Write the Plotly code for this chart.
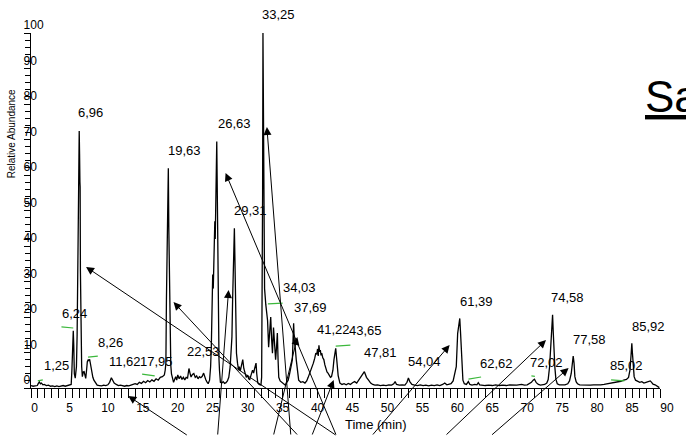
import plotly.graph_objects as go

# ---- chromatogram trace ----
time_min = [0.0,0.3,0.6,0.9,1.05,1.2,1.35,1.5,1.7,1.9,2.2,2.5,2.8,3.1,3.4,3.7,4.0,4.3,4.6,4.9,5.2,5.5,5.75,
            5.85,5.95,6.05,6.12,6.2,6.33,6.42,6.5,6.6,6.68,6.75,6.8,6.86,6.9,6.95,7.0,7.03,7.07,7.12,7.17,7.25,7.35,7.48,7.6,7.7,7.83,7.95,8.06,8.2,8.3,8.39,8.5,8.67,8.85,9.0,9.2,9.47,9.8,10.1,10.4,10.7,11.0,11.25,11.5,11.7,11.9,12.2,12.5,12.8,13.1,13.4,13.7,14.0,14.3,14.6,14.9,15.2,15.5,15.8,16.1,16.4,16.7,17.0,17.3,17.6,17.9,18.2,18.5,18.8,19.08,
            19.2,19.3,19.38,19.45,19.5,19.56,19.65,19.72,19.8,19.88,19.95,20.0,20.1,20.25,20.4,20.55,20.7,20.85,21.0,21.2,21.4,21.6,21.8,22.0,22.2,22.4,22.6,22.75,22.9,23.1,23.3,23.5,23.7,23.9,24.1,24.3,24.5,24.7,24.85,25.0,25.15,25.35,25.55,
            25.7,25.8,25.9,26.0,26.08,26.15,26.22,26.3,26.36,26.42,26.48,26.53,26.58,26.63,26.68,26.72,26.77,26.82,26.9,26.97,27.1,27.3,27.5,27.7,27.9,28.1,28.3,28.5,28.65,28.75,28.85,28.95,29.1,29.18,29.25,29.33,29.4,29.55,29.7,29.8,29.95,30.1,30.3,30.45,30.6,30.8,31.0,31.15,31.3,31.45,31.6,31.7,31.85,32.0,32.1,32.2,32.3,32.45,32.65,32.9,
            33.0,33.08,33.14,33.19,33.23,33.27,33.3,33.35,33.42,33.6,33.72,33.85,34.0,34.15,34.3,34.42,34.55,34.7,34.85,35.0,35.15,35.25,35.35,35.45,35.65,35.95,36.2,36.4,36.6,36.8,37.0,37.2,37.4,37.5,37.58,37.68,37.8,37.95,38.1,38.3,38.6,38.9,39.2,39.45,39.66,39.9,40.1,40.4,40.6,40.75,40.9,41.0,41.1,41.2,41.3,41.4,41.5,41.6,41.75,41.9,42.05,42.2,42.35,42.5,42.7,42.85,43.0,43.2,43.35,43.5,43.6,43.7,43.8,43.95,
            44.2,44.5,44.8,45.1,45.4,45.7,46.0,46.3,46.6,46.9,47.15,47.4,47.6,47.7,47.85,48.0,48.3,48.6,48.9,49.2,49.6,50.0,50.4,50.8,51.2,51.6,51.9,52.1,52.3,52.7,53.1,53.5,53.8,54.0,54.2,54.5,54.9,55.3,55.7,56.1,56.5,56.9,57.3,57.7,58.1,58.5,58.9,59.2,59.5,59.8,60.1,60.4,60.6,60.85,61.05,61.2,61.35,61.45,61.55,61.7,61.8,62.0,62.3,62.58,62.8,63.1,63.5,63.8,64.0,64.2,64.6,65.0,65.5,66.0,66.5,67.0,67.5,68.0,68.5,69.0,69.5,70.2,70.6,71.0,71.3,71.6,71.85,72.04,72.3,72.6,72.9,73.2,73.5,73.8,74.0,74.2,74.35,74.5,74.63,74.72,74.8,74.95,75.1,75.3,75.6,76.0,76.4,76.8,77.05,77.3,77.45,77.58,77.7,77.82,78.0,78.2,78.5,79.0,79.5,80.0,80.5,81.0,81.5,82.0,82.5,83.0,83.5,84.0,84.4,84.8,85.2,85.5,85.7,85.85,85.97,86.05,86.15,86.3,86.5,86.8,87.1,87.4,87.7,88.0,88.3,88.6,88.8,89.0,89.3,89.6,89.9]
abundance = [0.7,0.5,0.6,0.7,1.3,1.7,1.2,1.4,0.9,1.0,0.7,0.8,0.5,0.6,0.4,0.6,0.4,0.5,0.7,0.5,0.6,0.8,1.0,
             5,13,16.1,12,4,2.8,4,6,15,25,40,53,65,72.4,66,58,56.7,33,18,10.7,6,3.2,4.5,4.6,3.2,2.7,5,7.4,8.0,7.6,8.1,6.5,4.6,3,2.2,1.5,0.8,0.7,0.6,0.8,0.7,0.9,1.6,2.9,2.2,1.4,1.0,0.7,0.8,0.6,0.5,0.7,0.6,0.8,0.9,1.2,1.0,1.6,1.3,1.9,1.5,2.1,1.7,2.3,1.9,2.6,2.2,3.0,3.2,3.7,
             5,7,25,40,50,45,61.9,45,30,16,8,6.5,4,3,1.6,2.4,3.2,2.2,3.7,2.6,3.4,2.4,3.0,2.3,3.0,2.8,5.5,4.2,3.1,3.8,4.1,3.0,3.4,2.6,3.2,2.9,3.3,4.2,3.0,2.4,1.8,1.2,2.2,
             6,11.6,25,32,28,38,34,47,42,55,50,64.7,69.4,60,48,54,33,19,8,5,1.6,1.4,1.8,1.3,1.5,2.0,3,6,12,14.4,25,36,45,36,22,12,9.8,7,5,6,4.8,6.2,8,5.5,4,3,3.6,2.6,2.4,3.8,4.4,5,4.2,5.5,6.2,7,4,1.4,1.0,0.8,
             3,20,55,100,84,70,58.6,40,28,23.4,21,19,11.5,16,20,14,9.8,17,12,8,12,15.5,8,3,2,1.4,1.0,0.8,1.6,2.2,4,6,8,14,18.2,13,11.5,8,6,2.2,1.6,1.8,1.4,2.0,3,4.2,5.5,7,8.4,9.8,9.5,11,9,12,10.2,10.7,9.2,9.8,8.5,8,6.5,5.2,4.5,4.2,3.4,3,3.2,5,8,10,11.2,9,6,3.5,
             1.4,1.0,1.2,0.9,1.3,1.0,1.5,1.8,1.4,2.2,2.8,3.6,4.2,4.6,3.8,3,2.2,1.4,1.0,0.8,0.9,0.7,0.8,0.7,0.9,0.8,1.2,1.8,1.0,0.8,0.9,0.8,1.6,2.8,1.8,1.0,0.8,0.7,0.9,0.7,0.8,0.6,0.8,0.7,0.9,0.7,1.0,1.4,0.9,1.0,1.2,2.0,3.5,6,15.4,17,19.6,16,11.6,6,2.2,1.2,1.0,1.8,1.0,0.8,1.0,0.9,1.5,0.9,0.8,0.7,0.8,0.7,0.9,0.7,0.8,0.7,0.9,0.8,0.8,1.0,0.8,0.9,1.2,1.6,2.2,2.5,1.5,1.0,0.8,0.9,1.0,1.4,2.4,6,12,17,20.6,16,10,6,2.5,1.2,0.9,0.8,0.9,1.2,2,4.1,7,9,7,3.2,1.8,1.2,0.9,0.8,0.9,0.8,0.9,0.8,0.9,1.0,1.2,1.3,1.4,1.6,1.9,2.2,2.4,3.0,5,9,12.6,10,6,3.2,2.2,2.0,1.6,1.8,1.4,1.6,1.8,2.0,1.6,1.1,0.9,0.5,0.1]

# ---- peak labels ----
peak_labels = ["1,25","6,24","6,96","8,26","11,62","17,95","19,63","22,53","26,63","29,31","33,25",
               "34,03","37,69","41,22","43,65","47,81","54,04","61,39","62,62","72,02","74,58","77,58","85,02","85,92"]
label_time = [3.66,6.19,8.58,11.39,13.5,18.0,21.94,24.75,29.11,31.36,35.44,
              38.39,39.94,43.31,47.81,50.06,56.25,63.7,66.66,73.83,76.78,79.88,85.22,88.31]
label_abund = [6.2,21.1,77.5,12.7,7.6,7.6,66.8,10.4,74.4,50.1,105.1,
               28.2,22.8,16.6,16.3,10.1,7.6,24.5,7.0,7.3,25.6,13.8,6.2,17.2]

# ---- stray arrows: head position (time, abundance) and tail offset in px ----
arrow_head_time = [7.875,20.39,13.92,28.27,27.84,33.75,38.11,43.31,59.9,73.69,76.92]
arrow_head_abund = [34.1,24.2,-2.25,27.6,60.56,73.5,14.37,2.25,12.1,13.5,5.6]
arrow_tail_dx = [251,125,60,-11,111,24,-24,-22,-78,-101,-78]
arrow_tail_dy = [169,134,40,146,263,309,99,56,91,96,68]

# ---- green baseline markers (time, abundance start/end) ----
green_t0 = [0.98,4.36,8.16,15.9,33.9,43.6,62.6,71.6,83.0]
green_a0 = [2.0,17.2,8.7,3.9,23.7,11.8,2.5,3.4,2.3]
green_t1 = [1.69,6.05,9.56,17.7,36.0,45.7,64.4,72.1,84.9]
green_a1 = [2.3,16.9,9.0,3.4,23.9,12.1,3.1,3.3,2.0]

x_ticks = list(range(0, 91, 5))
y_ticks = list(range(0, 101, 10))

NB = "\u00a0"
x_ticktext = [(str(v) + NB * 2) if v < 10 else str(v) for v in x_ticks]
y_ticktext = [str(v) + NB * (2 * (3 - len(str(v)))) for v in y_ticks]

FONT = "Arial, Liberation Sans, sans-serif"

fig = go.Figure()
fig.add_trace(go.Scatter(x=time_min, y=abundance, mode="lines",
                         line=dict(color="black", width=1.3),
                         showlegend=False, hoverinfo="skip"))

gx, gy = [], []
for t0, a0, t1, a1 in zip(green_t0, green_a0, green_t1, green_a1):
    gx += [t0, t1, None]
    gy += [a0, a1, None]
fig.add_trace(go.Scatter(x=gx, y=gy, mode="lines", line=dict(color="#3cb83c", width=1.2),
                         showlegend=False, hoverinfo="skip"))

annotations = []
for txt, t, a in zip(peak_labels, label_time, label_abund):
    annotations.append(dict(x=t, y=a / 100, xref="x", yref="paper", text=txt,
                            showarrow=False, xanchor="center", yanchor="middle",
                            font=dict(family=FONT, size=13, color="black")))
for t, a, dx, dy in zip(arrow_head_time, arrow_head_abund, arrow_tail_dx, arrow_tail_dy):
    annotations.append(dict(x=t, y=a / 100, xref="x", yref="paper", text="",
                            showarrow=True, ax=dx, ay=dy, arrowhead=2, arrowsize=1.6,
                            arrowwidth=1, arrowcolor="black", standoff=0, startstandoff=0))
annotations.append(dict(x=-0.0297, y=0.7155, xref="paper", yref="paper",
                        text="Relative Abundance", textangle=-90, showarrow=False,
                        xanchor="center", yanchor="middle",
                        font=dict(family=FONT, size=10, color="black")))
annotations.append(dict(x=0.548, y=-0.104, xref="paper", yref="paper",
                        text="Time (min)", showarrow=False, xanchor="center", yanchor="middle",
                        font=dict(family=FONT, size=13, color="black")))
annotations.append(dict(x=0.9725, y=0.8225, xref="paper", yref="paper",
                        text="<u>Sample</u>", showarrow=False, xanchor="left", yanchor="middle",
                        font=dict(family=FONT, size=44, color="black")))

fig.update_layout(
    width=686, height=436,
    margin=dict(l=31, r=15, t=33, b=48),
    paper_bgcolor="white", plot_bgcolor="white",
    showlegend=False,
    annotations=annotations,
    xaxis=dict(range=[0, 90], showline=True, linecolor="black", linewidth=1,
               ticks="outside", ticklen=9, tickwidth=1, tickcolor="black",
               tickmode="array", tickvals=x_ticks, ticktext=x_ticktext,
               ticklabelshift=7,
               tickfont=dict(family=FONT, size=12, color="black"),
               minor=dict(dtick=1, tick0=0, ticks="outside", ticklen=9, tickwidth=1, tickcolor="black"),
               showgrid=False, zeroline=False),
    yaxis=dict(range=[0, 100], showline=True, linecolor="black", linewidth=1,
               ticks="outside", ticklen=6, tickwidth=1, tickcolor="black",
               tickmode="array", tickvals=y_ticks, ticktext=y_ticktext,
               ticklabelshift=-8, ticklabelstandoff=-22,
               tickfont=dict(family=FONT, size=12, color="black"),
               minor=dict(dtick=2, tick0=0, ticks="outside", ticklen=5, tickwidth=1, tickcolor="black"),
               showgrid=False, zeroline=False),
)

fig.write_html("out.html", config={"displayModeBar": False},
               post_script="document.body.style.margin='0px';document.body.style.overflow='hidden';")
